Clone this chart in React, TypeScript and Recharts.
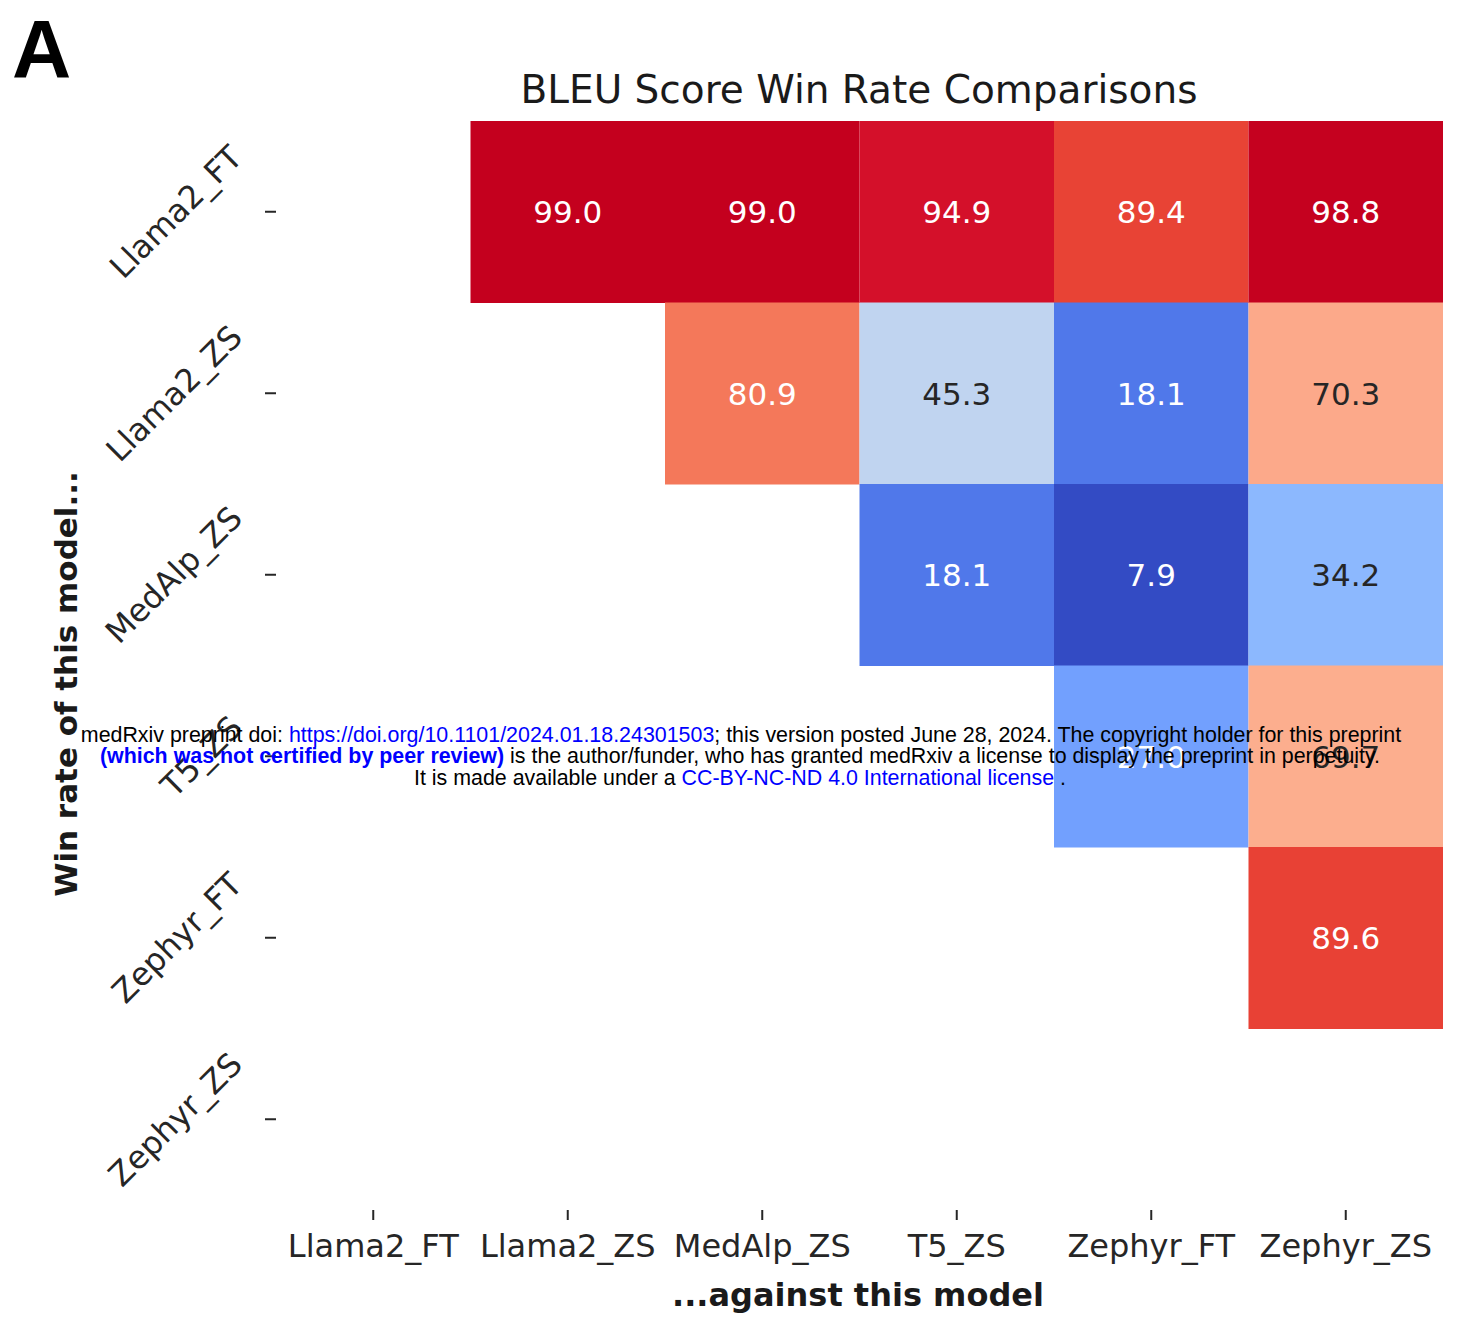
import React from 'react';
import { Bar, BarChart, Cell, LabelList, XAxis, YAxis } from 'recharts';

const models = ['Llama2_FT', 'Llama2_ZS', 'MedAlp_ZS', 'T5_ZS', 'Zephyr_FT', 'Zephyr_ZS'];

// win rate (%) of the row model against each column model, null where the cell is masked
const llama2FtWins = [null, 99.0, 99.0, 94.9, 89.4, 98.8];
const llama2ZsWins = [null, null, 80.9, 45.3, 18.1, 70.3];
const medAlpZsWins = [null, null, null, 18.1, 7.9, 34.2];
const t5ZsWins = [null, null, null, null, 27.0, 69.7];
const zephyrFtWins = [null, null, null, null, null, 89.6];
const zephyrZsWins = [null, null, null, null, null, null];

const winRates: (number | null)[][] = [
  llama2FtWins,
  llama2ZsWins,
  medAlpZsWins,
  t5ZsWins,
  zephyrFtWins,
  zephyrZsWins,
];

// coolwarm-like colours sampled from the figure
const colorStops: [number, string][] = [
  [7.9, '#334bc4'],
  [18.1, '#5078ea'],
  [27.0, '#72a0fe'],
  [34.2, '#8cb8fe'],
  [45.3, '#c0d4f0'],
  [69.7, '#fcae8e'],
  [70.3, '#fca98a'],
  [80.9, '#f4785a'],
  [89.5, '#e84235'],
  [94.9, '#d4102a'],
  [99.0, '#c4001e'],
];

const FONT = '"DejaVu Sans", sans-serif';
const INK = '#262626';

function hexToRgb(hex: string): number[] {
  const n = parseInt(hex.slice(1), 16);
  return [(n >> 16) & 255, (n >> 8) & 255, n & 255];
}

function colorFor(v: number): string {
  if (v <= colorStops[0][0]) return colorStops[0][1];
  for (let i = 1; i < colorStops.length; i++) {
    const [v1, c1] = colorStops[i];
    if (v <= v1) {
      const [v0, c0] = colorStops[i - 1];
      const t = (v - v0) / (v1 - v0);
      const a = hexToRgb(c0);
      const b = hexToRgb(c1);
      const mix = a.map((x, k) => Math.round(x + (b[k] - x) * t));
      return `rgb(${mix.join(',')})`;
    }
  }
  return colorStops[colorStops.length - 1][1];
}

function luminance(color: string): number {
  const rgb = color.startsWith('#')
    ? hexToRgb(color)
    : color.replace(/[^\d,]/g, '').split(',').map(Number);
  const lin = rgb.map((c) => {
    const s = c / 255;
    return s <= 0.03928 ? s / 12.92 : Math.pow((s + 0.055) / 1.055, 2.4);
  });
  return 0.2126 * lin[0] + 0.7152 * lin[1] + 0.0722 * lin[2];
}

const rows = models.map((model, i) => {
  const row: Record<string, string | number | null> = { model };
  winRates[i].forEach((v, j) => {
    row[`c${j}`] = 1;
    row[`v${j}`] = v;
  });
  return row;
});

let measureCtx: CanvasRenderingContext2D | null = null;
function textWidth(text: string, font: string, size: number): number {
  if (!measureCtx && typeof document !== 'undefined') {
    measureCtx = document.createElement('canvas').getContext('2d');
  }
  if (!measureCtx) return text.length * size * 0.6;
  measureCtx.font = font;
  return measureCtx.measureText(text).width;
}

function YTick({ x, y, payload }: any) {
  const label = String(payload.value);
  const w = textWidth(label, `32px ${FONT}`, 32);
  const px = Number(x) - 21;
  const py = Number(y) - 0.354 * (w - 23);
  return (
    <text
      x={px}
      y={py}
      transform={`rotate(-45 ${px} ${py})`}
      textAnchor="end"
      fontSize={32}
      fontFamily={FONT}
      fill={INK}
    >
      {label}
    </text>
  );
}

function XTick({ x, y, payload }: any) {
  return (
    <text x={x} y={Number(y) + 37} textAnchor="middle" fontSize={32} fontFamily={FONT} fill={INK}>
      {models[Math.floor(payload.value)]}
    </text>
  );
}

function CellLabel(props: any) {
  const { x, y, width, height, value } = props;
  if (value === null || value === undefined) return null;
  const fill = luminance(colorFor(value)) < 0.408 ? '#ffffff' : INK;
  return (
    <text
      x={Number(x) + Number(width) / 2}
      y={Number(y) + Number(height) / 2}
      textAnchor="middle"
      dominantBaseline="central"
      fontSize={31}
      fontFamily={FONT}
      fill={fill}
    >
      {Number(value).toFixed(1)}
    </text>
  );
}

export default function App() {
  return (
    <div style={{ position: 'absolute', left: 0, top: 0, width: 1461, height: 1318, background: '#fff' }}>
      <BarChart
        width={1461}
        height={1318}
        data={rows}
        layout="vertical"
        barCategoryGap={0}
        margin={{ top: 121, right: 18, bottom: 0, left: 0 }}
      >
        <XAxis
          type="number"
          domain={[0, models.length]}
          ticks={models.map((_, i) => i + 0.5)}
          axisLine={false}
          tickSize={10}
          tickMargin={0}
          tickLine={{ stroke: INK, strokeWidth: 2 }}
          tick={<XTick />}
          height={108}
          interval={0}
        />
        <YAxis
          type="category"
          dataKey="model"
          width={276}
          axisLine={false}
          tickSize={11}
          tickMargin={0}
          tickLine={{ stroke: INK, strokeWidth: 2 }}
          tick={<YTick />}
          interval={0}
        />
        {models.map((_, j) => (
          <Bar key={j} dataKey={`c${j}`} stackId="grid" isAnimationActive={false}>
            {rows.map((_r, i) => {
              const v = winRates[i][j];
              return <Cell key={i} fill={v === null ? 'transparent' : colorFor(v)} />;
            })}
            <LabelList dataKey={`v${j}`} content={<CellLabel />} />
          </Bar>
        ))}
      </BarChart>
      <svg
        width={1461}
        height={1318}
        style={{ position: 'absolute', left: 0, top: 0, pointerEvents: 'none' }}
      >
        <text x={12} y={77} fontSize={82} fontWeight="bold" fontFamily='"Liberation Sans", Arial, sans-serif' fill="#000">
          A
        </text>
        <text x={859} y={103} textAnchor="middle" fontSize={39} fontFamily={FONT} fill="#1a1a1a">
          BLEU Score Win Rate Comparisons
        </text>
        <text x={858} y={1306} textAnchor="middle" fontSize={32} fontWeight="bold" fontFamily={FONT} fill="#1a1a1a">
          ...against this model
        </text>
        <text
          x={66}
          y={684}
          transform="rotate(-90 66 684)"
          textAnchor="middle"
          dominantBaseline="central"
          fontSize={31}
          fontWeight="bold"
          fontFamily={FONT}
          fill="#1a1a1a"
        >
          Win rate of this model...
        </text>
        <g fontFamily='"Liberation Sans", Arial, sans-serif' fontSize={21.4} textAnchor="middle">
          <text x={741} y={742} fill="#000">
            medRxiv preprint doi: <tspan fill="#0000ff">https://doi.org/10.1101/2024.01.18.24301503</tspan>; this
            version posted June 28, 2024. The copyright holder for this preprint
          </text>
          <text x={740} y={763} fill="#000">
            <tspan fill="#0000ff" fontWeight="bold">(which was not certified by peer review)</tspan> is the
            author/funder, who has granted medRxiv a license to display the preprint in perpetuity.
          </text>
          <text x={740} y={785} fill="#000">
            It is made available under a <tspan fill="#0000ff">CC-BY-NC-ND 4.0 International license</tspan> .
          </text>
        </g>
      </svg>
    </div>
  );
}
